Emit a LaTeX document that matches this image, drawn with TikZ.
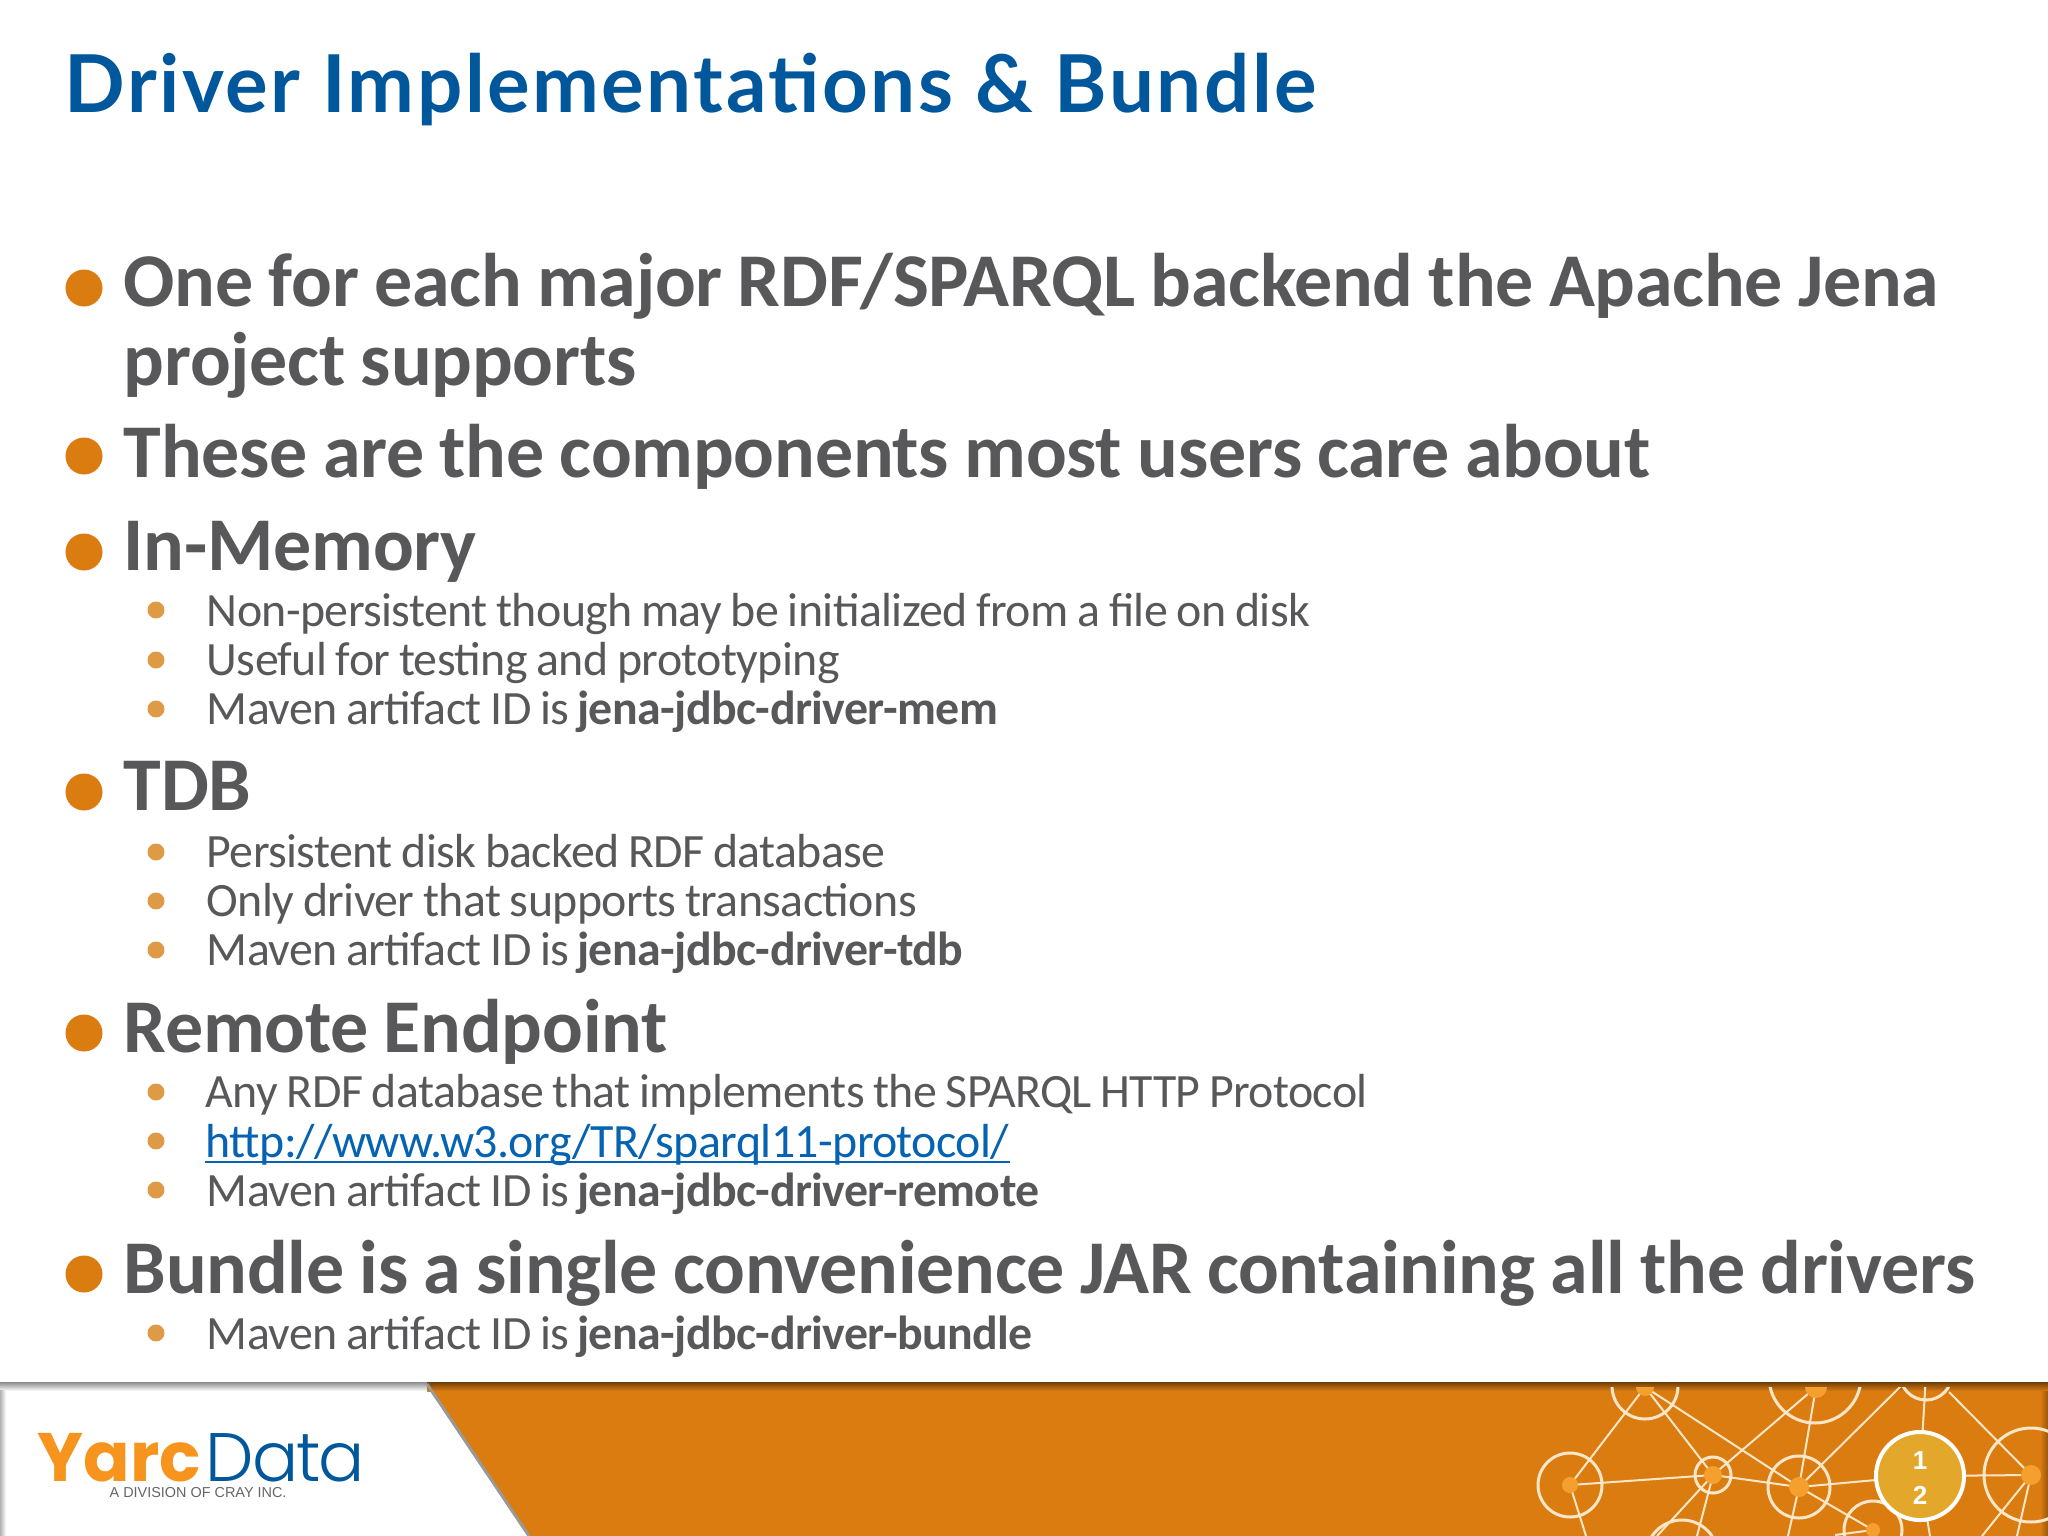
\documentclass[tikz,border=0pt]{standalone}
\usepackage{fontspec}
\setmainfont{Carlito}
\newfontfamily\mainfont[LetterSpace=-0.3,WordSpace=0.9]{Carlito}
\newfontfamily\subfont[LetterSpace=-1.2,WordSpace=0.85]{Carlito}
\newfontfamily\titlefont[LetterSpace=3.1]{Lato}
\newfontfamily\yarcfont[LetterSpace=0]{Poppins}
\newfontfamily\datafont[LetterSpace=-3,UprightFont={* Light}]{Poppins}
\newfontfamily\crayfont{Liberation Sans}
\definecolor{slidegray}{HTML}{58585B}
\definecolor{slideblue}{HTML}{00579B}
\definecolor{slideorange}{HTML}{DB7C10}
\definecolor{subdot}{HTML}{DE9A45}
\definecolor{dotorange}{HTML}{F5A02E}
\definecolor{netline}{HTML}{FBE6C8}
\definecolor{pagegold}{HTML}{E3A82B}
\definecolor{linkblue}{HTML}{0563B1}
\definecolor{yarcorange}{HTML}{F7941E}
\tikzset{
	titletext/.style={anchor=base west, inner sep=0, text=slideblue, font=\titlefont\bfseries\fontsize{22.7}{27}\selectfont},
	maintext/.style={anchor=base west, inner sep=0, text=slidegray, font=\mainfont\bfseries\fontsize{21.6}{26}\selectfont},
	subtext/.style={anchor=base west, inner sep=0, text=slidegray, font=\subfont\fontsize{13.6}{16}\selectfont},
	pagetext/.style={inner sep=0, text=white, font=\crayfont\bfseries\fontsize{7.4}{9}\selectfont},
	netring/.style={draw=netline, line width=1mm*0.3},
	netlink/.style={draw=netline, line width=1mm*0.2},
	netdot/.style={fill=dotorange}
}
\begin{document}
\begin{tikzpicture}[x=0.01cm,y=-0.01cm]
	\useasboundingbox (0,0) rectangle (2048,1536);
	\fill[white] (0,0) rectangle (2048,1536);

	\node[titletext] (title) at (64,112) {Driver Implementations \& Bundle};

	% big bullets
	\foreach \y in {288,456,552,792,1033,1274}
		\fill[fill=slideorange] (84,\y) circle (18.5);
	% small bullets
	\foreach \y in {610,660,709,852,901,950,1092,1141,1190,1333}
		\fill[fill=subdot] (156,\y) circle (8.5);

	\node[maintext] (onefor) at (123,306) {One for each major RDF/SPARQL backend the Apache Jena};
	\node[maintext] (project) at (123,385) {project supports};
	\node[maintext] (these) at (123,477) {These are the components most users care about};
	\node[maintext] (inmem) at (123,570) {In-Memory};
	\node[subtext] (nonpers) at (206,626) {Non-persistent though may be initialized from a file on disk};
	\node[subtext] (useful) at (206,675) {Useful for testing and prototyping};
	\node[subtext] (mavenmem) at (206,724) {Maven artifact ID is \textbf{jena-jdbc-driver-mem}};
	\node[maintext] (tdb) at (123,810) {TDB};
	\node[subtext] (pers) at (206,867) {Persistent disk backed RDF database};
	\node[subtext] (only) at (206,916) {Only driver that supports transactions};
	\node[subtext] (maventdb) at (206,965) {Maven artifact ID is \textbf{jena-jdbc-driver-tdb}};
	\node[maintext] (remote) at (123,1052) {Remote Endpoint};
	\node[subtext] (anyrdf) at (205,1107) {Any RDF database that implements the SPARQL HTTP Protocol};
	\node[subtext,text=linkblue] (link) at (205,1157) {http://www.w3.org/TR/sparql11-protocol/};
	\draw[linkblue, line width=0.25mm] ([yshift=-0.05cm]link.base west) -- ([yshift=-0.05cm]link.base east);
	\node[subtext] (mavenrem) at (206,1206) {Maven artifact ID is \textbf{jena-jdbc-driver-remote}};
	\node[maintext] (bundle) at (123,1293) {Bundle is a single convenience JAR containing all the drivers};
	\node[subtext] (mavenbun) at (206,1349) {Maven artifact ID is \textbf{jena-jdbc-driver-bundle}};

	% footer
	\fill[slideorange] (427,1382) -- (2048,1382) -- (2048,1536) -- (529,1536) -- cycle;
	\fill[top color=black!50!slideorange, bottom color=slideorange] (427,1382) rectangle (2048,1391);
	\fill[left color=slideorange, right color=black!30!slideorange] (2040,1391) rectangle (2048,1536);
	\fill[top color=black!45, bottom color=white] (0,1382) rectangle (427,1391);
	\fill[left color=black!30, right color=white] (0,1390) rectangle (6,1536);
	\draw[black!40, line width=0.3mm] (427,1384) -- (529,1536);

	% network
	\begin{scope}
		\clip (1500,1387) rectangle (2048,1536);
		\coordinate (na) at (1645,1387);
		\coordinate (nb) at (1816,1387);
		\coordinate (nc) at (1926,1374);
		\coordinate (cl) at (1902,1385);
		\coordinate (cr) at (1949,1392);
		\coordinate (nd) at (1570,1485);
		\coordinate (ne) at (1713,1475);
		\coordinate (nf) at (1799,1487);
		\coordinate (ng) at (1920,1476);
		\coordinate (nh) at (2031,1475);
		\coordinate (nj) at (1873,1530);
		\coordinate (bd) at (1586,1536);
		\coordinate (be1) at (1657,1536);
		\coordinate (be2) at (1697,1536);
		\coordinate (bf) at (1788,1536);
		\coordinate (bg) at (1930,1536);
		\coordinate (bh1) at (1982,1536);
		\coordinate (bh2) at (2017,1536);
		\coordinate (bj) at (1835,1535);

		\draw[netlink] (na) -- (nd);
		\draw[netlink] (na) -- (ne);
		\draw[netlink] (na) -- (nf);
		\draw[netlink] (nb) -- (ne);
		\draw[netlink] (nb) -- (nf);
		\draw[netlink] (nc) -- (ng);
		\draw[netlink] (cl) -- (nf);
		\draw[netlink] (cr) -- (nh);
		\draw[netlink] (nd) -- (ne);
		\draw[netlink] (ne) -- (nf);
		\draw[netlink] (nf) -- (ng);
		\draw[netlink] (ng) -- (nh);
		\draw[netlink] (nf) -- (nj);
		\draw[netlink] (nd) -- (bd);
		\draw[netlink] (ne) -- (be1);
		\draw[netlink] (ne) -- (be2);
		\draw[netlink] (nf) -- (bf);
		\draw[netlink] (ng) -- (bg);
		\draw[netlink] (nh) -- (bh1);
		\draw[netlink] (nh) -- (bh2);
		\draw[netlink] (nj) -- (bj);

		\draw[netring] (1645,1386) circle (33);
		\draw[netring] (1815,1377) circle (46);
		\draw[netring] (nc) circle (26);
		\draw[netring] (nd) circle (32);
		\draw[netring] (ne) circle (18);
		\draw[netring] (nf) circle (31);
		\draw[netring] (nh) circle (47);
		\draw[netring] (1682,1556) circle (36);
		\draw[netring] (nj) circle (29);

		\fill[netdot] (na) circle (9);
		\fill[netdot] (nb) circle (11);
		\fill[netdot] (nd) circle (8);
		\fill[netdot] (ne) circle (9);
		\fill[netdot] (nf) circle (10);
		\fill[netdot] (nh) circle (10);
		\fill[netdot] (nj) circle (7);
	\end{scope}

	\node[circle, minimum size=0.88cm, inner sep=0, draw=white, line width=0.4mm, fill=pagegold] (page) at (ng) {};
	\node[pagetext] (pageone) at (1920,1461) {1};
	\node[pagetext] (pagetwo) at (1920,1495) {2};

	% logo
	\node[anchor=base west, inner sep=0, text=yarcorange, font=\yarcfont\bfseries\fontsize{19.5}{23}\selectfont] (yarc) at (37,1481) {Yarc};
	\node[anchor=base west, inner sep=0, text=slideblue, font=\datafont\fontsize{19.5}{23}\selectfont] (data) at (205,1481) {Data};
	\node[anchor=base west, inner sep=0, text=black!60, font=\crayfont\fontsize{4.1}{5}\selectfont] (cray) at (109,1497) {A DIVISION OF CRAY INC.};
\end{tikzpicture}
\end{document}
